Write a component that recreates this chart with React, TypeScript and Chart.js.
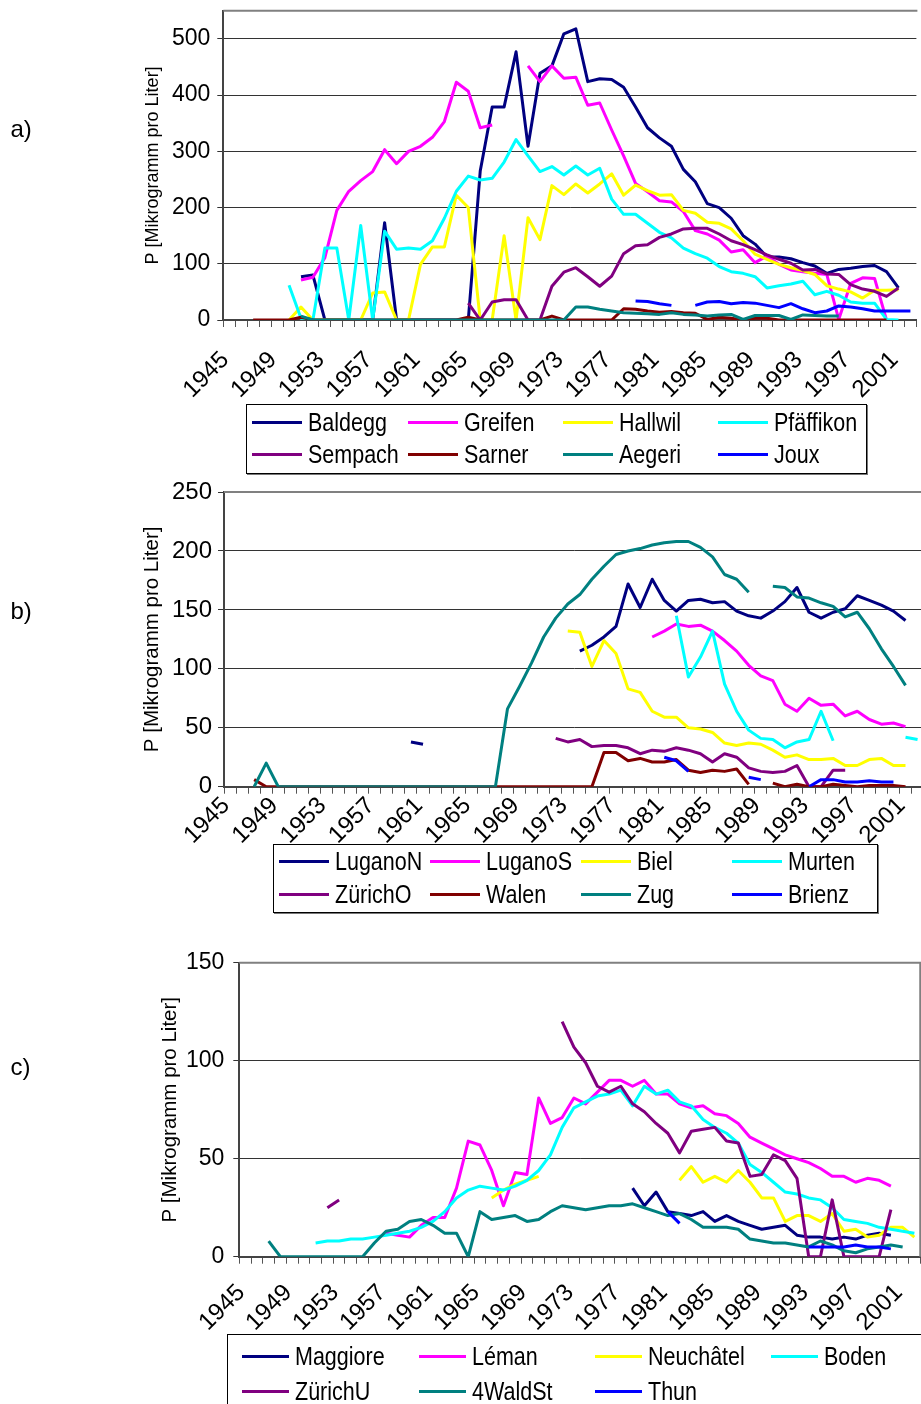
import React, { useEffect, useRef } from 'react';
import { Chart, registerables } from 'chart.js';

Chart.register(...registerables);

const FONT = '"Liberation Sans", Arial, Helvetica, sans-serif';
const _ = null;

const years = [
  1945, 1946, 1947, 1948, 1949, 1950, 1951, 1952, 1953, 1954,
  1955, 1956, 1957, 1958, 1959, 1960, 1961, 1962, 1963, 1964,
  1965, 1966, 1967, 1968, 1969, 1970, 1971, 1972, 1973, 1974,
  1975, 1976, 1977, 1978, 1979, 1980, 1981, 1982, 1983, 1984,
  1985, 1986, 1987, 1988, 1989, 1990, 1991, 1992, 1993, 1994,
  1995, 1996, 1997, 1998, 1999, 2000, 2001, 2002,
];
const labelStep = 4;
const axisTitle = 'P [Mikrogramm pro Liter]';

const yTicksA = [0, 100, 200, 300, 400, 500];
const yTicksB = [0, 50, 100, 150, 200, 250];
const yTicksC = [0, 50, 100, 150];
const yMaxA = 550;
const yMaxB = 250;
const yMaxC = 150;

// ---------- Panel a ----------
const baldegg = [
  _, _, _, _, _, _, 77, 80, 0, 0,
  0, 0, 0, 173, 0, 0, 0, 0, 0, 0,
  0, 265, 379, 379, 477, 309, 439, 452, 509, 518,
  424, 429, 428, 414, 379, 342, 324, 309, 268, 246,
  207, 200, 181, 150, 135, 112, 112, 109, 102, 96,
  83, 90, 92, 95, 97, 86, 57, _,
];
const greifen = [
  _, _, _, _, _, _, 71, 76, 111, 195,
  229, 248, 264, 303, 278, 300, 309, 325, 353, 423,
  407, 342, 347, _, _, 452, 424, 452, 430, 432,
  382, 386, 338, 292, 243, 228, 212, 210, 193, 159,
  153, 142, 121, 125, 102, 114, 99, 89, 86, 83,
  81, 1, 65, 75, 74, 0, _, _,
];
const hallwil = [
  _, _, _, _, _, 0, 23, 0, 0, 0,
  0, 0, 48, 50, 0, 0, 99, 130, 130, 222,
  200, 0, 0, 150, 0, 182, 143, 239, 223, 242,
  226, 242, 260, 222, 240, 230, 222, 223, 195, 190,
  174, 172, 162, 141, 117, 108, 99, 93, 88, 81,
  61, 55, 50, 39, 53, 53, 54, _,
];
const pfaeffikon = [
  _, _, _, _, _, 62, 3, 0, 128, 128,
  0, 168, 0, 158, 126, 128, 126, 141, 181, 229,
  256, 249, 252, 281, 321, 292, 264, 273, 258, 274,
  258, 270, 215, 188, 188, 172, 156, 146, 128, 118,
  110, 95, 86, 83, 77, 57, 61, 64, 69, 45,
  51, 44, 32, 30, 30, 1, 0, _,
];
const sempach = [
  _, _, _, _, _, _, _, _, _, _,
  _, _, _, _, _, _, _, _, _, _,
  30, 0, 32, 36, 36, 0, 0, 60, 85, 93,
  77, 60, 78, 118, 132, 134, 147, 153, 162, 163,
  163, 153, 141, 134, 125, 116, 108, 101, 89, 90,
  82, 81, 63, 55, 51, 42, 57, _,
];
const sarner = [
  _, _, 0, 0, 0, 0, 5, 0, 0, 0,
  0, 0, 0, 0, 0, 0, 0, 0, 0, 0,
  5, 0, 0, 0, 0, 0, 0, 7, 0, 0,
  0, 0, 0, 20, 19, 16, 14, 15, 13, 12,
  1, 5, 3, 0, 3, 3, 0, 0, 0, 0,
  0, 0, 0, 0, 0, 0, _, _,
];
const aegeri = [
  _, _, _, _, _, _, 7, 0, 0, 0,
  0, 0, 0, 0, 0, 0, 0, 0, 0, 0,
  0, 0, 0, 0, 0, 0, 0, 0, 0, 23,
  23, 19, 16, 13, 12, 11, 10, 13, 10, 9,
  7, 9, 10, 1, 8, 8, 8, 1, 9, 8,
  7, 7, _, _, _, _, _, _,
];
const joux = [
  _, _, _, _, _, _, _, _, _, _,
  _, _, _, _, _, _, _, _, _, _,
  _, _, _, _, _, _, _, _, _, _,
  _, _, _, _, 34, 33, 29, 26, _, 26,
  32, 33, 29, 31, 30, 26, 22, 29, 20, 13,
  16, 25, 23, 20, 16, 16, 16, 16,
];

// ---------- Panel b ----------
const luganoN = [
  _, _, _, _, _, _, _, _, _, _,
  _, _, _, _, _, 38, 36, _, _, _,
  _, _, _, _, _, _, _, _, _, 115,
  120, 127, 136, 172, 152, 176, 158, 149, 158, 159,
  156, 157, 149, 145, 143, 149, 157, 169, 148, 143,
  148, 151, 162, 158, 154, 149, 141, _,
];
const luganoS = [
  _, _, _, _, _, _, _, _, _, _,
  _, _, _, _, _, _, _, _, _, _,
  _, _, _, _, _, _, _, _, _, _,
  _, _, _, _, _, 127, 132, 138, 136, 137,
  132, 124, 115, 103, 94, 90, 70, 64, 75, 69,
  70, 60, 64, 57, 53, 54, 51, _,
];
const biel = [
  _, _, _, _, _, _, _, _, _, _,
  _, _, _, _, _, _, _, _, _, _,
  _, _, _, _, _, _, _, _, 132, 131,
  102, 124, 113, 83, 80, 64, 59, 59, 50, 49,
  46, 37, 35, 37, 36, 31, 25, 27, 23, 23,
  24, 18, 18, 23, 24, 18, 18, _,
];
const murten = [
  _, _, _, _, _, _, _, _, _, _,
  _, _, _, _, _, _, _, _, _, _,
  _, _, _, _, _, _, _, _, _, _,
  _, _, _, _, _, _, _, 145, 93, 110,
  132, 87, 64, 48, 41, 40, 33, 38, 40, 64,
  39, _, _, _, _, _, 42, 40,
];
const zuerichO = [
  _, _, _, _, _, _, _, _, _, _,
  _, _, _, _, _, _, _, _, _, _,
  _, _, _, _, _, _, _, 41, 38, 40,
  34, 35, 35, 33, 28, 31, 30, 33, 31, 28,
  21, 28, 25, 16, 13, 12, 13, 18, 0, 0,
  14, 14, _, _, _, _, _, _,
];
const walen = [
  _, _, 6, 0, 0, 0, 0, 0, 0, 0,
  0, 0, 0, 0, 0, 0, 0, 0, 0, 0,
  0, 0, 0, 0, 0, 0, 0, 0, 0, 0,
  0, 29, 29, 22, 24, 21, 21, 23, 14, 12,
  14, 13, 15, 2, _, 3, 0, 2, 0, 0,
  2, 1, 0, 1, 1, 1, 0, _,
];
const zug = [
  _, _, 0, 20, 0, 0, 0, 0, 0, 0,
  0, 0, 0, 0, 0, 0, 0, 0, 0, 0,
  0, 0, 0, 66, 85, 105, 127, 143, 155, 163,
  176, 187, 197, 200, 202, 205, 207, 208, 208, 203,
  195, 180, 176, 165, _, 170, 169, 161, 160, 156,
  153, 144, 148, 134, 117, 102, 86, _,
];
const brienz = [
  _, _, _, _, _, _, _, _, _, _,
  _, _, _, _, _, _, _, _, _, _,
  _, _, _, _, _, _, _, _, _, _,
  _, _, _, _, _, _, 25, 22, 13, _,
  _, _, _, 8, 6, _, _, _, 0, 6,
  6, 4, 4, 5, 4, 4, _, _,
];

// ---------- Panel c ----------
const maggiore = [
  _, _, _, _, _, _, _, _, _, _,
  _, _, _, _, _, _, _, _, _, _,
  _, _, _, _, _, _, _, _, _, _,
  _, _, _, 35, 26, 33, 23, 22, 21, 23,
  18, 21, 18, 16, 14, 15, 16, 11, 10, 10,
  9, 10, 9, 11, 12, 11, _, _,
];
const leman = [
  _, _, _, _, _, _, _, _, _, _,
  _, _, 12, 11, 10, 16, 20, 20, 35, 59,
  57, 44, 26, 43, 42, 81, 68, 71, 81, 78,
  84, 90, 90, 87, 90, 83, 83, 78, 76, 77,
  73, 72, 68, 61, 58, 55, 52, 50, 48, 45,
  41, 41, 38, 40, 39, 36, _, _,
];
const neuchatel = [
  _, _, _, _, _, _, _, _, _, _,
  _, _, _, _, _, _, _, _, _, _,
  _, 30, 34, 37, 39, 41, _, _, _, _,
  _, _, _, _, _, _, _, 39, 46, 38,
  41, 38, 44, 38, 30, 30, 18, 21, 21, 18,
  22, 13, 14, 10, 11, 15, 15, 10,
];
const boden = [
  _, _, _, _, _, _, 7, 8, 8, 9,
  9, 10, 11, 12, 13, 15, 18, 23, 30, 34,
  36, 35, 34, 36, 39, 44, 52, 66, 76, 79,
  82, 83, 85, 77, 87, 83, 85, 79, 77, 70,
  66, 63, 58, 47, 43, 38, 33, 32, 30, 29,
  25, 19, 18, 17, 15, 14, 13, 12,
];
const zuerichU = [
  _, _, _, _, _, _, _, 25, 29, _,
  _, _, _, _, _, _, _, _, _, _,
  _, _, _, _, _, _, _, 120, 107, 99,
  87, 84, 87, 78, 74, 68, 63, 53, 64, 65,
  66, 59, 58, 41, 42, 52, 49, 40, 0, 0,
  29, 0, 0, 0, 0, 24, _, _,
];
const waldSt = [
  _, _, 8, 0, 0, 0, 0, 0, 0, 0,
  0, 7, 13, 14, 18, 19, 16, 12, 12, 0,
  23, 19, 20, 21, 18, 19, 23, 26, 25, 24,
  25, 26, 26, 27, 25, 23, 21, 22, 19, 15,
  15, 15, 14, 9, 8, 7, 7, 6, 5, 8,
  6, 3, 2, 4, 5, 6, 5, _,
];
const thun = [
  _, _, _, _, _, _, _, _, _, _,
  _, _, _, _, _, _, _, _, _, _,
  _, _, _, _, _, _, _, _, _, _,
  _, _, _, _, _, _, 23, 17, _, _,
  _, _, _, _, _, _, _, _, 5, 5,
  5, 5, 6, 5, 5, 4, _, _,
];

const NAVY = '#000080';
const MAGENTA = '#FF00FF';
const YELLOW = '#FFFF00';
const CYAN = '#00FFFF';
const PURPLE = '#800080';
const MAROON = '#800000';
const TEAL = '#008080';
const BLUE = '#0000FF';

type Series = { name: string; color: string; data: (number | null)[] };

const seriesA: Series[] = [
  { name: 'Baldegg', color: NAVY, data: baldegg },
  { name: 'Greifen', color: MAGENTA, data: greifen },
  { name: 'Hallwil', color: YELLOW, data: hallwil },
  { name: 'Pfäffikon', color: CYAN, data: pfaeffikon },
  { name: 'Sempach', color: PURPLE, data: sempach },
  { name: 'Sarner', color: MAROON, data: sarner },
  { name: 'Aegeri', color: TEAL, data: aegeri },
  { name: 'Joux', color: BLUE, data: joux },
];
const seriesB: Series[] = [
  { name: 'LuganoN', color: NAVY, data: luganoN },
  { name: 'LuganoS', color: MAGENTA, data: luganoS },
  { name: 'Biel', color: YELLOW, data: biel },
  { name: 'Murten', color: CYAN, data: murten },
  { name: 'ZürichO', color: PURPLE, data: zuerichO },
  { name: 'Walen', color: MAROON, data: walen },
  { name: 'Zug', color: TEAL, data: zug },
  { name: 'Brienz', color: BLUE, data: brienz },
];
const seriesC: Series[] = [
  { name: 'Maggiore', color: NAVY, data: maggiore },
  { name: 'Léman', color: MAGENTA, data: leman },
  { name: 'Neuchâtel', color: YELLOW, data: neuchatel },
  { name: 'Boden', color: CYAN, data: boden },
  { name: 'ZürichU', color: PURPLE, data: zuerichU },
  { name: '4WaldSt', color: TEAL, data: waldSt },
  { name: 'Thun', color: BLUE, data: thun },
];

type PanelSpec = {
  canvasTop: number; canvasW: number; canvasH: number;
  plotLeft: number; plotTop: number; plotRight: number; plotBottom: number;
  yMax: number; yTicks: number[];
  tickFont: number; titleFont: number; titleX: number;
  xFont: number; xPad: number; yPad: number; frameRight: boolean;
  series: Series[];
};

const panelA: PanelSpec = {
  canvasTop: -10, canvasW: 950, canvasH: 420,
  plotLeft: 223.3, plotTop: 5.7, plotRight: 925, plotBottom: 320,
  yMax: yMaxA, yTicks: yTicksA, tickFont: 23, titleFont: 18, titleX: 153,
  xFont: 24, xPad: 19, yPad: 7, frameRight: false, series: seriesA,
};
const panelB: PanelSpec = {
  canvasTop: 470, canvasW: 950, canvasH: 380,
  plotLeft: 224, plotTop: 492, plotRight: 923.6, plotBottom: 786.7,
  yMax: yMaxB, yTicks: yTicksB, tickFont: 24, titleFont: 20.5, titleX: 152.5,
  xFont: 24, xPad: -2, yPad: 6, frameRight: false, series: seriesB,
};
const panelC: PanelSpec = {
  canvasTop: 940, canvasW: 950, canvasH: 400,
  plotLeft: 239.3, plotTop: 962.7, plotRight: 920.7, plotBottom: 1256.7,
  yMax: yMaxC, yTicks: yTicksC, tickFont: 23, titleFont: 20.5, titleX: 170,
  xFont: 24, xPad: 15, yPad: 9, frameRight: true, series: seriesC,
};

const framePlugin = {
  id: 'frame',
  beforeDatasetsDraw(chart: any, _args: any, opts: any) {
    const { ctx, chartArea: a } = chart;
    ctx.save();
    ctx.strokeStyle = '#808080';
    ctx.lineWidth = 2;
    ctx.beginPath();
    ctx.moveTo(a.left, a.top);
    ctx.lineTo(a.right + 1, a.top);
    if (opts && opts.right) {
      ctx.moveTo(a.right, a.top);
      ctx.lineTo(a.right, a.bottom);
    }
    ctx.stroke();
    ctx.restore();
  },
};

function ChartPanel({ spec }: { spec: PanelSpec }) {
  const ref = useRef<HTMLCanvasElement | null>(null);
  useEffect(() => {
    const s = spec;
    const canvas = ref.current;
    if (!canvas) return;
    const titleLH = s.titleFont * 1.2;
    const chart = new Chart(canvas, {
      type: 'line',
      data: {
        labels: years.map(String),
        datasets: s.series.map((sr, i) => ({
          label: sr.name,
          data: sr.data,
          borderColor: sr.color,
          backgroundColor: sr.color,
          borderWidth: 3,
          pointRadius: 0,
          pointHoverRadius: 0,
          pointHitRadius: 0,
          tension: 0,
          spanGaps: false,
          fill: false,
          borderJoinStyle: 'round',
          order: 100 - i,
        })),
      },
      options: {
        animation: false,
        responsive: false,
        devicePixelRatio: 1,
        events: [],
        layout: {
          padding: { left: 0, top: s.plotTop - s.canvasTop, right: s.canvasW - s.plotRight, bottom: 0 },
        },
        plugins: {
          legend: { display: false },
          tooltip: { enabled: false },
          frame: { right: s.frameRight },
        } as any,
        scales: {
          x: {
            type: 'category',
            offset: true,
            grid: { offset: true, drawOnChartArea: false, drawTicks: true, tickLength: 7, color: '#555', lineWidth: 1 },
            border: { display: true, color: '#444', width: 2 },
            ticks: {
              autoSkip: false,
              minRotation: 45,
              maxRotation: 45,
              padding: s.xPad,
              labelOffset: -4,
              color: '#000',
              font: { family: FONT, size: s.xFont },
              callback: (_v: any, i: number) => ((years[i] - years[0]) % labelStep === 0 ? String(years[i]) : ''),
            },
            afterFit: (sc: any) => { sc.height = s.canvasTop + s.canvasH - s.plotBottom; },
          },
          y: {
            type: 'linear',
            min: 0,
            max: s.yMax,
            afterBuildTicks: (sc: any) => { sc.ticks = s.yTicks.map((v) => ({ value: v })); },
            grid: { color: '#333', lineWidth: 1, drawTicks: true, tickLength: 6 },
            border: { display: true, color: '#444', width: 2 },
            ticks: { padding: s.yPad, color: '#000', font: { family: FONT, size: s.tickFont } },
            title: {
              display: true,
              text: axisTitle,
              color: '#000',
              font: { family: FONT, size: s.titleFont, lineHeight: 1.2 },
              padding: { top: s.titleX - titleLH / 2, bottom: 0 },
            },
            afterFit: (sc: any) => { sc.width = s.plotLeft; },
          },
        },
      } as any,
      plugins: [framePlugin],
    });
    return () => chart.destroy();
  }, [spec]);
  return (
    <canvas
      ref={ref}
      width={spec.canvasW}
      height={spec.canvasH}
      style={{ position: 'absolute', left: 0, top: spec.canvasTop, width: spec.canvasW, height: spec.canvasH }}
    />
  );
}

type LegendSpec = {
  left: number; top: number; width: number; height: number;
  colX: number[]; rowY: number[]; lineLen: number; textGap: number; items: Series[];
};

const legendA: LegendSpec = {
  left: 246, top: 404, width: 621, height: 70,
  colX: [6, 162, 317, 472], rowY: [18.5, 50.5], lineLen: 50, textGap: 56, items: seriesA,
};
const legendB: LegendSpec = {
  left: 273, top: 844, width: 605, height: 69,
  colX: [6, 157, 308, 459], rowY: [17.5, 50], lineLen: 50, textGap: 56, items: seriesB,
};
const legendC: LegendSpec = {
  left: 227, top: 1334, width: 710, height: 80,
  colX: [15, 191.5, 368, 544], rowY: [22, 57], lineLen: 47, textGap: 53, items: seriesC,
};

function Legend({ spec }: { spec: LegendSpec }) {
  return (
    <div
      style={{
        position: 'absolute', left: spec.left, top: spec.top, width: spec.width, height: spec.height,
        boxSizing: 'border-box', border: '1px solid #000', background: '#fff', boxShadow: '1px 1px 0 #777',
      }}
    >
      {spec.items.map((it, k) => {
        const cx = spec.colX[k % 4] - 1;
        const ry = spec.rowY[Math.floor(k / 4)] - 1;
        return (
          <React.Fragment key={it.name}>
            <div style={{ position: 'absolute', left: cx, top: ry - 1.5, width: spec.lineLen, height: 3, background: it.color }} />
            <div
              style={{
                position: 'absolute', left: cx + spec.textGap, top: ry - 12.2,
                fontFamily: FONT, fontSize: 25, lineHeight: '25px', whiteSpace: 'nowrap', color: '#000',
                transform: 'scaleX(0.86)', transformOrigin: '0 0',
              }}
            >
              {it.name}
            </div>
          </React.Fragment>
        );
      })}
    </div>
  );
}

const panelLabelStyle = (top: number): React.CSSProperties => ({
  position: 'absolute', left: 10.5, top, fontFamily: FONT, fontSize: 24, lineHeight: '24px', color: '#000',
});

export default function App() {
  return (
    <div style={{ position: 'absolute', left: 0, top: 0, width: 921, height: 1404, overflow: 'hidden', background: '#fff' }}>
      <ChartPanel spec={panelA} />
      <ChartPanel spec={panelB} />
      <ChartPanel spec={panelC} />
      <Legend spec={legendA} />
      <Legend spec={legendB} />
      <Legend spec={legendC} />
      <div style={panelLabelStyle(117.4)}>a)</div>
      <div style={panelLabelStyle(598.7)}>b)</div>
      <div style={panelLabelStyle(1054.7)}>c)</div>
    </div>
  );
}
